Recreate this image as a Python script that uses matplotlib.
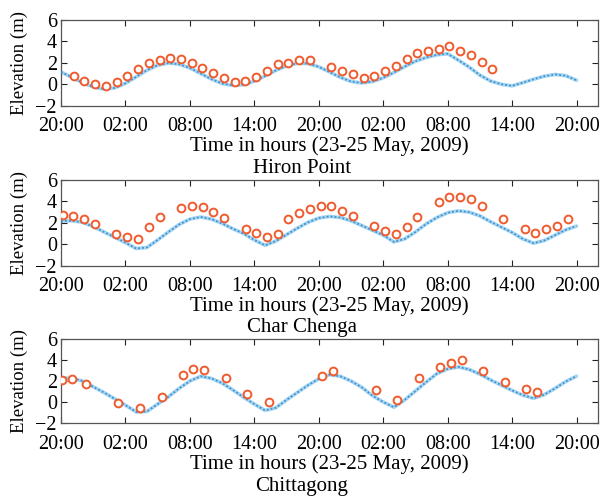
import matplotlib
matplotlib.use('Agg')
import matplotlib.pyplot as plt

plt.rcParams['font.family'] = ['Liberation Serif', 'DejaVu Serif']
plt.rcParams['mathtext.fontset'] = 'stix'

# hours after 20:00 on 23 May 2009
tick_hours = [0, 6, 12, 18, 24, 30, 36, 42, 48]
tick_labels = ['20:00', '02:00', '08:00', '14:00', '20:00', '02:00', '08:00', '14:00', '20:00']
stations = ['Hiron Point', 'Char Chenga', 'Chittagong']

model_hours = list(range(49))

# simulated water level (m), hourly
hiron_model = [1.15, 0.65, 0.15, -0.25, -0.45, -0.34, 0.09, 0.69, 1.31, 1.78,
               1.98, 1.87, 1.52, 1.01, 0.48, 0.07, -0.11, -0.04, 0.29, 0.77,
               1.29, 1.72, 1.96, 1.93, 1.63, 1.15, 0.65, 0.26, 0.12, 0.25,
               0.60, 1.10, 1.65, 2.15, 2.50, 2.75, 2.85, 2.25, 1.60, 0.85,
               0.30, 0.00, -0.15, 0.15, 0.47, 0.75, 0.92, 0.80, 0.37]
chenga_model = [2.15, 2.20, 2.05, 1.65, 1.15, 0.65, 0.15, -0.40, -0.30, 0.40,
                1.15, 1.85, 2.35, 2.55, 2.35, 1.95, 1.45, 1.00, 0.40, -0.10,
                0.30, 0.90, 1.50, 2.05, 2.45, 2.60, 2.50, 2.20, 1.75, 1.30,
                0.85, 0.22, 0.50, 1.15, 1.90, 2.50, 2.95, 3.12, 3.00, 2.65,
                2.10, 1.60, 1.10, 0.50, 0.10, 0.35, 0.85, 1.35, 1.70]
chitta_model = [2.30, 2.25, 2.00, 1.45, 0.90, 0.30, -0.30, -0.95, -0.90, -0.20,
                0.50, 1.30, 2.00, 2.45, 2.25, 1.80, 1.15, 0.45, -0.20, -0.80,
                -0.55, 0.20, 0.90, 1.60, 2.20, 2.60, 2.45, 2.00, 1.40, 0.60,
                0.00, -0.50, 0.20, 1.05, 1.90, 2.70, 3.15, 3.34, 3.10, 2.65,
                2.10, 1.60, 1.10, 0.65, 0.35, 0.70, 1.30, 1.95, 2.46]

# observed water level (m)
hiron_obs_hours = [1.17, 2.17, 3.17, 4.17, 5.17, 6.17, 7.17, 8.17, 9.17, 10.17,
                   11.17, 12.17, 13.17, 14.17, 15.17, 16.17, 17.17, 18.17, 19.17,
                   20.17, 21.17, 22.17, 23.17, 25.17, 26.17, 27.17, 28.17, 29.17,
                   30.17, 31.17, 32.17, 33.17, 34.17, 35.17, 36.17, 37.17, 38.17,
                   39.17, 40.17]
hiron_obs = [0.78, 0.31, 0.00, -0.19, 0.19, 0.81, 1.43, 1.98, 2.29, 2.45,
             2.39, 1.98, 1.52, 1.02, 0.59, 0.25, 0.28, 0.65, 1.27,
             1.86, 2.02, 2.23, 2.26, 1.61, 1.24, 0.96, 0.56, 0.81,
             1.21, 1.71, 2.33, 2.88, 3.10, 3.29, 3.60, 3.13, 2.70,
             2.08, 1.43]

chenga_obs_hours = [0.15, 1.15, 2.17, 3.16, 5.15, 6.14, 7.16, 8.19, 9.18, 11.16,
                    12.16, 13.18, 14.17, 15.16, 17.18, 18.17, 19.16, 20.16, 21.18,
                    22.17, 23.16, 24.17, 25.18, 26.2, 27.19, 29.18, 30.17, 31.16,
                    32.19, 33.18, 35.16, 36.15, 37.18, 38.17, 39.16, 41.18, 43.16,
                    44.15, 45.18, 46.17, 47.16]
chenga_obs = [2.71, 2.65, 2.37, 1.85, 0.98, 0.68, 0.46, 1.60, 2.55, 3.38,
              3.60, 3.51, 3.05, 2.43, 1.45, 1.02, 0.71, 0.92, 2.37,
              2.92, 3.29, 3.55, 3.54, 3.14, 2.62, 1.69, 1.26, 0.98,
              1.60, 2.52, 3.94, 4.37, 4.43, 4.25, 3.60, 2.37, 1.38,
              1.08, 1.38, 1.75, 2.37]

chitta_obs_hours = [0.12, 0.99, 2.33, 5.33, 7.35, 9.36, 11.32, 12.31, 13.33, 15.32,
                    17.33, 19.35, 24.28, 25.33, 29.3, 31.32, 33.33, 35.32, 36.34,
                    37.3, 39.32, 41.34, 43.32, 44.34]
chitta_obs = [2.14, 2.20, 1.73, -0.09, -0.54, 0.47, 2.55, 3.12, 3.06, 2.24,
              0.72, 0.03, 2.49, 2.93, 1.10, 0.16, 2.24, 3.34, 3.75,
              3.97, 2.99, 1.89, 1.26, 0.98]

models = [hiron_model, chenga_model, chitta_model]
obs_hours = [hiron_obs_hours, chenga_obs_hours, chitta_obs_hours]
obs = [hiron_obs, chenga_obs, chitta_obs]

fig = plt.figure(figsize=(6.0, 4.98), dpi=100)
# axes boxes in figure fraction (left, bottom, width, height)
boxes = [(0.1017, 0.7878, 0.895, 0.172),
         (0.1017, 0.4665, 0.895, 0.172),
         (0.1017, 0.1506, 0.895, 0.1687)]
name_y = [0.661, 0.342, 0.024]

for i in range(3):
    ax = fig.add_axes(boxes[i])
    ax.plot(model_hours, models[i], color='#a6d5f0', linewidth=2.6, solid_capstyle='round', zorder=2)
    ax.plot(model_hours, models[i], color='#3f92d2', linewidth=1.3, linestyle=(0, (1, 1.2)), zorder=3)
    ax.plot(obs_hours[i], obs[i], linestyle='none', marker='o', markersize=5.6,
            markerfacecolor='white', markeredgecolor='#ef5b2e', markeredgewidth=1.4, zorder=4)
    ax.set_xlim(0, 50)
    ax.set_ylim(-2, 6)
    ax.set_yticks([-2, 0, 2, 4, 6])
    ax.set_xticks(tick_hours)
    ax.set_xticklabels(tick_labels)
    ax.tick_params(direction='in', length=4, width=0.8, top=True, right=True,
                   labelsize=14.5, pad=3, colors='#222222', labelcolor='black')
    ax.tick_params(axis='x', pad=8.5)
    for s in ax.spines.values():
        s.set_color('#555555')
        s.set_linewidth(0.9)
    ax.set_xlabel('Time in hours (23-25 May, 2009)', fontsize=15, labelpad=0)
    ax.set_ylabel('Elevation (m)', fontsize=13.5)
    ax.yaxis.set_label_coords(-0.062, 0.5)
    fig.text(0.503, name_y[i], stations[i], fontsize=15, ha='center', va='center')

plt.savefig('out.png', dpi=100)
plt.close()
